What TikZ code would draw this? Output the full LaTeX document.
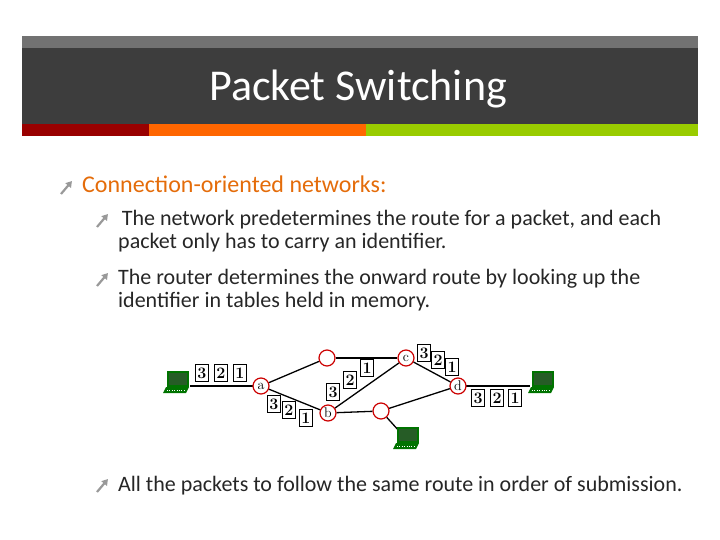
\documentclass[tikz,border=0pt]{standalone}
\usepackage{fontspec}
\setmainfont{Carlito}
\usetikzlibrary{arrows.meta}
\definecolor{bred}{RGB}{153,0,0}
\definecolor{borange}{RGB}{255,102,0}
\definecolor{bgreen}{RGB}{153,204,0}
\definecolor{hor}{RGB}{228,108,10}
\begin{document}
\begin{tikzpicture}[x=1pt,y=-1pt,
  rt/.style={circle,draw=red!80!black,line width=1.2pt,fill=white,minimum size=16pt,inner sep=0pt,font=\fontspec{Latin Modern Roman}\fontsize{14}{14}\selectfont},
  pk/.style={draw=black,line width=1pt,fill=white,minimum width=13pt,minimum height=17pt,inner sep=0pt,font=\fontspec{Latin Modern Roman}\bfseries\fontsize{16}{16}\selectfont},
  ln/.style={line width=1.3pt},
  bul/.style={-{Triangle[length=6pt,width=7pt]},line width=2.2pt,gray!80},
  t2/.style={anchor=north west,font=\fontsize{22}{23}\selectfont,text=black!85,align=left,inner sep=0pt}]
\useasboundingbox (0,0) rectangle (720,540);
\fill[gray!70!black!85] (22,36) rectangle (698,48);
\fill[black!76] (22,48) rectangle (698,124);
\fill[bred] (22,124) rectangle (149,136);
\fill[borange] (149,124) rectangle (366,136);
\fill[bgreen] (366,124) rectangle (698,136);
\node[text=white,font=\fontsize{44}{46}\selectfont] (title) at (358,89) {Packet Switching};
\draw[bul] (61,194) -- (72,181);
\node[anchor=base west,inner sep=0pt,font=\fontsize{24}{26}\selectfont,text=hor] (h1) at (82,193) {Connection-oriented networks:};
\draw[bul] (97,227) -- (108,214);
\node[t2] (b1) at (118,210) {\,The network predetermines the route for a packet, and each\\packet only has to carry an identifier.};
\draw[bul] (97,286) -- (108,273);
\node[t2] (b2) at (118,269) {The router determines the onward route by looking up the\\identifier in tables held in memory.};
\draw[bul] (97,492) -- (108,479);
\node[anchor=base west,font=\fontsize{22}{23}\selectfont,text=black!85,inner sep=0pt] (b3) at (118,491) {All the packets to follow the same route in order of submission.};
% network
\coordinate (lL) at (190,386);
\coordinate (lR) at (530,386);
\coordinate (lB) at (400,432);
\draw[ln] (lL) -- (261,386);
\draw[ln] (458,386) -- (lR);
\node[rt] (a) at (261,386) {a};
\node[rt] (t) at (327,358) {};
\node[rt] (c) at (406,358) {c};
\node[rt] (d) at (458,386) {d};
\node[rt] (b) at (328,413) {b};
\node[rt] (u) at (381,411) {};
\draw[ln] (a) -- (t); \draw[ln] (t) -- (c); \draw[ln] (a) -- (b);
\draw[ln] (b) -- (c); \draw[ln] (c) -- (d); \draw[ln] (b) -- (u);
\draw[ln] (u) -- (d); \draw[ln] (u) -- (lB);
% laptops
\foreach \n/\x/\y in {L/178/383,R/543/383,B/408/439}{
  \fill[green!45!black] (\x-11,\y-12) rectangle (\x+11,\y+4);
  \fill[green!30!black!70!gray] (\x-9,\y-10) rectangle (\x+9,\y+2);
  \fill[green!45!black] (\x-12,\y+4) -- (\x+11,\y+4) -- (\x+8,\y+10) -- (\x-15,\y+10) -- cycle;
  \draw[white,line width=0.4pt,dotted] (\x-11,\y+7.5) -- (\x+6,\y+7.5);
}
% packets
\foreach \l/\x/\y in {3/202/373,2/221/373,1/240/373,3/274/404,2/289/410,1/306/418,3/333/392,2/350/380,1/367/368,3/424/353,2/438/360,1/452/367,3/478/398,2/497/398,1/515/398}{
  \node[pk] at (\x,\y) {\l};
}
\end{tikzpicture}
\end{document}
